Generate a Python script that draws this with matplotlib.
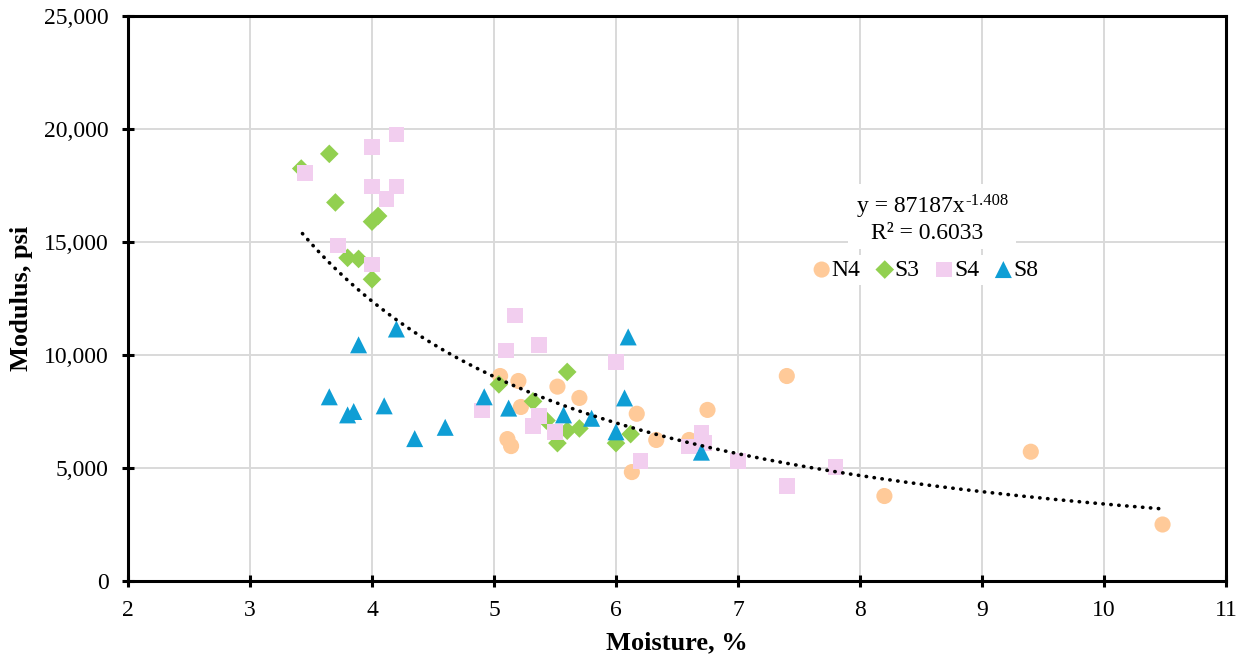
import numpy as np
import matplotlib
matplotlib.use("Agg")
import matplotlib.pyplot as plt
from matplotlib.ticker import FuncFormatter
from matplotlib.patches import Rectangle

plt.rcParams['font.family'] = ['Liberation Serif', 'DejaVu Serif']

# ---- data ----
n4_x = [5.05, 5.20, 5.22, 5.11, 5.14, 5.52, 5.70, 6.17, 6.13, 6.33, 6.60, 6.75, 7.40, 8.20, 9.40, 10.48]
n4_y = [9070, 8850, 7700, 6280, 5970, 8600, 8100, 7400, 4820, 6240, 6240, 7570, 9070, 3760, 5720, 2500]

s3_x = [3.42, 3.65, 3.70, 3.80, 3.89, 4.00, 4.00, 4.05, 5.04, 5.32, 5.43, 5.52, 5.60, 5.60, 5.70, 6.00, 6.12]
s3_y = [18250, 18900, 16750, 14300, 14250, 13350, 15900, 16150, 8700, 7950, 7100, 6100, 9250, 6650, 6750, 6100, 6500]

s4_x = [3.45, 3.72, 4.00, 4.00, 4.00, 4.12, 4.20, 4.20, 4.90, 5.10, 5.17, 5.32, 5.37, 5.37, 5.50,
        6.00, 6.20, 6.60, 6.70, 6.72, 7.00, 7.40, 7.80]
s4_y = [18050, 14850, 19200, 17450, 14000, 16900, 19750, 17450, 7550, 10200, 11750, 6850, 10450, 7300, 6600,
        9700, 5300, 5950, 6550, 6100, 5300, 4200, 5050]

s8_x = [3.65, 3.80, 3.85, 3.89, 4.10, 4.20, 4.35, 4.60, 4.92, 5.12, 5.57, 5.80, 6.00, 6.07, 6.10, 6.70]
s8_y = [8150, 7350, 7500, 10450, 7750, 11150, 6300, 6800, 8150, 7650, 7350, 7200, 6600, 8100, 10800, 5700]

trend_a = 87187
trend_b = -1.408
trend_range = [3.43, 10.48]
eq_main = "y = 87187x"
eq_exp = "-1.408"
r2_text = "R² = 0.6033"

x_ticks = list(range(2, 12))
y_ticks = list(range(0, 25001, 5000))

# ---- figure ----
W, H = 1247, 657
fig = plt.figure(figsize=(W / 100, H / 100), dpi=100)
L, R, T, B = 128, 1226, 16, 581
ax = fig.add_axes([L / W, 1 - B / H, (R - L) / W, (B - T) / H])


def axx(px):
    return (px - L) / (R - L)


def axy(py):
    return (B - py) / (B - T)


ax.set_xlim(2, 11)
ax.set_ylim(0, 25000)
ax.set_xticks(x_ticks)
ax.set_yticks(y_ticks)
ax.yaxis.set_major_formatter(FuncFormatter(lambda v, p: f"{int(v):,}"))
ax.grid(True, color='#D9D9D9', linewidth=1.4, zorder=0)
ax.set_axisbelow(True)

for s in ax.spines.values():
    s.set_linewidth(2.2)
    s.set_color('black')
    s.set_zorder(6)
ax.tick_params(axis='both', direction='inout', length=8, width=2.2, labelsize=17, colors='black')
ax.tick_params(axis='x', pad=10)
ax.tick_params(axis='y', pad=10)

ax.scatter(n4_x, n4_y, marker='o', s=135, color='#FFCA99', edgecolors='none', zorder=3, label='N4')
ax.scatter(s3_x, s3_y, marker='D', s=90, color='#92D050', edgecolors='none', zorder=3, label='S3')
ax.scatter(s4_x, s4_y, marker='s', s=125, color='#F2CEEF', edgecolors='none', zorder=3, label='S4')
ax.scatter(s8_x, s8_y, marker='^', s=150, color='#0F9ED5', edgecolors='none', zorder=3, label='S8')

xt = np.linspace(trend_range[0], trend_range[1], 300)
ax.plot(xt, trend_a * xt ** trend_b, linestyle=(0, (0.1, 2.1)), dash_capstyle='round',
        color='black', linewidth=2.6, zorder=4)

# equation label with white background
ax.add_patch(Rectangle((axx(848), axy(249)), axx(1016) - axx(848), axy(184) - axy(249),
                       transform=ax.transAxes, facecolor='white', edgecolor='none', zorder=5))
ax.text(axx(857), axy(212), eq_main, transform=ax.transAxes, ha='left', va='baseline',
        fontsize=17, zorder=6)
ax.text(axx(965), axy(205), eq_exp, transform=ax.transAxes, ha='left', va='baseline',
        fontsize=12, zorder=6)
ax.text(axx(927), axy(239), r2_text, transform=ax.transAxes, ha='center', va='baseline',
        fontsize=17, zorder=6)

leg = ax.legend(loc='center', bbox_to_anchor=(axx(925), axy(270)), ncol=4, frameon=True,
                fontsize=17, handletextpad=0.0, columnspacing=0.6, handlelength=0.85,
                borderpad=0.2, borderaxespad=0, framealpha=1, fancybox=False)
leg.get_frame().set_facecolor('white')
leg.get_frame().set_edgecolor('none')
leg.set_zorder(5)

ax.set_xlabel("Moisture, %", fontsize=19, fontweight='bold', labelpad=7)
ax.set_ylabel("Modulus, psi", fontsize=19, fontweight='bold', labelpad=8)

fig.savefig("out.png", dpi=100)
